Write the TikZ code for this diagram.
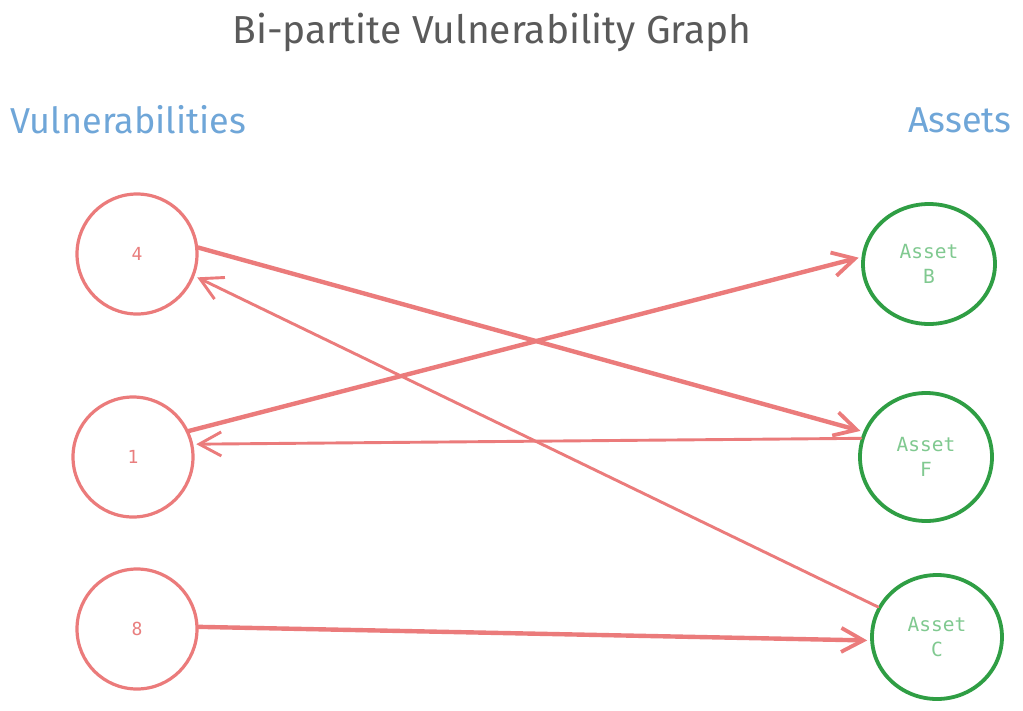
\documentclass[tikz,border=0pt]{standalone}
\usepackage{fontspec}
\setmainfont{Fira Sans}
\newfontfamily\monof{DejaVu Sans Mono}
\usetikzlibrary{arrows.meta,shapes.geometric}
\definecolor{vred}{HTML}{EB7B7B}
\definecolor{vredtext}{HTML}{E97E7E}
\definecolor{agreen}{HTML}{2F9E44}
\definecolor{agtext}{HTML}{80C990}
\definecolor{hblue}{HTML}{6FA6D8}
\definecolor{tgray}{HTML}{5A5A5A}
\tikzset{
  vnode/.style={ellipse, draw=vred, line width=3.2pt, minimum width=120pt, minimum height=120pt, inner sep=0pt, text=vredtext, font=\monof\fontsize{18}{22}\selectfont},
  anode/.style={ellipse, draw=agreen, line width=3.8pt, inner sep=0pt, text=agtext, align=center, font=\monof\fontsize{19.5}{25}\selectfont},
  heavy/.style={draw=vred, line width=4.4pt, line cap=round, -{Straight Barb[length=22pt,width=24pt,line width=3.8pt]}, shorten >=3pt},
  light/.style={draw=vred, line width=2.9pt, line cap=round, -{Straight Barb[length=22pt,width=24pt,line width=2.9pt]}, shorten >=3pt},
  htitle/.style={text=hblue, font=\fontsize{36}{42}\selectfont},
}
\begin{document}
\begin{tikzpicture}[x=1pt,y=-1pt]
\useasboundingbox[fill=white] (0,0) rectangle (1023,710);
\node[text=tgray, font=\fontsize{39}{46}\selectfont] (title) at (492,32) {Bi-partite Vulnerability Graph};
\node[htitle, anchor=west] (vh) at (7,120) {Vulnerabilities};
\node[htitle, anchor=east] (ah) at (1015,120) {Assets};

\node[vnode] (n4) at (137,254) {4};
\node[vnode] (n1) at (133,457) {1};
\node[vnode] (n8) at (137,629) {8};

\node[anode, minimum width=132pt, minimum height=120pt] (aB) at (929,264) {Asset\\B};
\node[anode, minimum width=132pt, minimum height=128pt] (aF) at (926,457) {Asset\\F};
\node[anode, minimum width=130pt, minimum height=124pt] (aC) at (937,637) {Asset\\C};

\draw[heavy] (n4.6) -- (aF.158);
\draw[heavy] (n1.25) -- (aB.174);
\draw[light] (aF.164) -- (n1.12);
\draw[light] (aC.153) -- (n4.-21);
\draw[heavy] (n8.2) -- (aC.-177);
\end{tikzpicture}
\end{document}
